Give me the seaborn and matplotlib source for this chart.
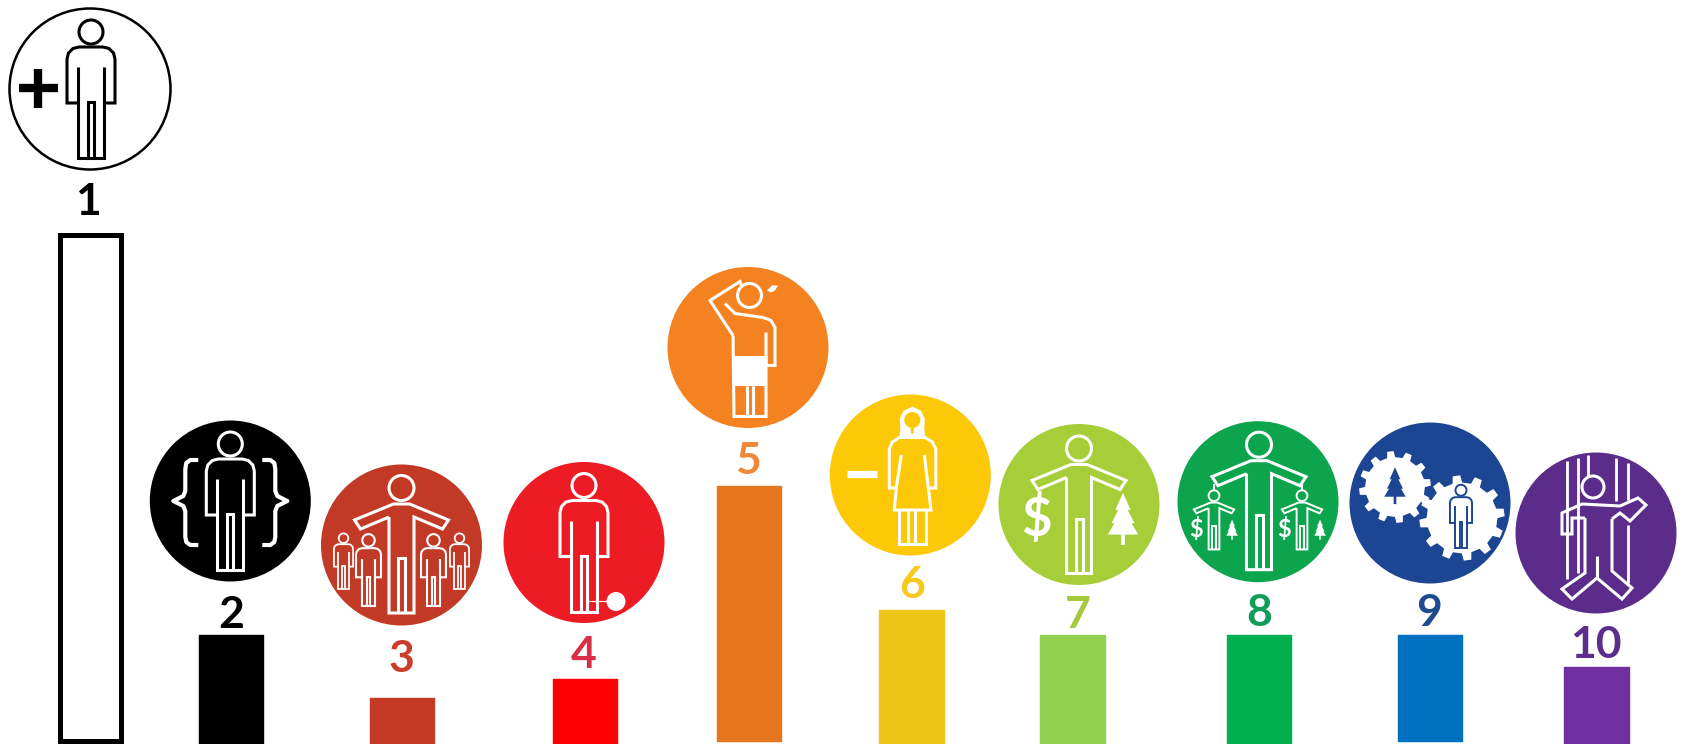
# -*- coding: utf-8 -*-
import numpy as np
import pandas as pd
import matplotlib
matplotlib.use("Agg")
import matplotlib.pyplot as plt
import seaborn as sns
from matplotlib.lines import Line2D
from matplotlib.patches import Circle, Polygon
from matplotlib.transforms import Affine2D

# data: one bar per numbered icon, heights
labels = ["1", "2", "3", "4", "5", "6", "7", "8", "9", "10"]
values = [509, 109, 46, 65, 258, 134, 109, 109, 109, 77]

# colours
bar_colors = ["#ffffff", "#000000", "#c43a25", "#ff0000", "#e6761e",
              "#eec616", "#92d050", "#00b050", "#0070c0", "#7030a0"]
icon_colors = ["#ffffff", "#000000", "#c23a26", "#ed1c24", "#f58220",
               "#fdc808", "#a6ce39", "#0ca44d", "#1c4594", "#5b2c8a"]
text_colors = ["#000000", "#000000", "#cc3c2c", "#d9304a", "#f0883a",
               "#f7c81e", "#a4c93c", "#0f9d58", "#1f4a8f", "#5b2d8c"]

# layout in pixels, the axes spans the figure 1:1
W, H = 1684, 744
BAR_X = [90, 231, 402, 585, 749, 911.5, 1072.5, 1259, 1430, 1596.5]
BAR_BOTTOM = [3, 0, 0, 0, 3, 0, 0, 0, 3, 0]
BAR_W = 64.6
ICON_X = [90, 230.3, 401.5, 584, 748, 910.3, 1079, 1258, 1430, 1596]
ICON_Y = [89, 501, 545, 542.5, 347.5, 475, 504.5, 501.7, 503, 533]
ICON_R = 80.5
NUM_X = [88, 231, 401, 584, 748, 912, 1078, 1259, 1429.5, 1596]
NUM_Y = [198.5, 611, 655, 652, 458, 581, 611, 609, 610, 641]

sns.set_theme(style="white")
plt.rcParams["font.family"] = ["Lato", "DejaVu Sans"]

fig = plt.figure(figsize=(W / 100, H / 100), dpi=100)
ax = fig.add_axes([0, 0, 1, 1])

df = pd.DataFrame({"pos": BAR_X, "value": values, "label": labels})
sns.barplot(data=df, x="pos", y="value", hue="label", hue_order=labels,
            palette=dict(zip(labels, bar_colors)), native_scale=True,
            width=BAR_W / np.diff(BAR_X).min(), dodge=False, saturation=1,
            legend=False, ax=ax)

for p, v, b, c in zip(ax.patches, values, BAR_BOTTOM, bar_colors):
    p.set_y(b)
    p.set_height(v - b)
    p.set_edgecolor(c)
    p.set_linewidth(1.0)
    p.set_joinstyle("round")

# first bar is only an outline
first = ax.patches[0]
first.set_x(90 - 30.5)
first.set_width(61)
first.set_edgecolor("black")
first.set_linewidth(3.6)
first.set_joinstyle("miter")

ax.set_xlim(0, W)
ax.set_ylim(0, H)
ax.axis("off")


def draw(pts, tr, color="white", lw=2.2, closed=False, join="miter"):
    if closed:
        pts = list(pts) + [pts[0]]
    xs, ys = zip(*pts)
    ax.add_line(Line2D(xs, ys, transform=tr, color=color, lw=lw,
                       solid_joinstyle=join, solid_capstyle="butt", zorder=4))


def fill(pts, tr, color="white"):
    ax.add_patch(Polygon(pts, closed=True, transform=tr, facecolor=color,
                         edgecolor="none", zorder=4))


def head(x, y, r, tr, color="white", lw=2.2):
    ax.add_patch(Circle((x, y), r, transform=tr, facecolor="none",
                        edgecolor=color, lw=lw, zorder=4))


def sub(tr, dx, dy, s):
    return Affine2D().scale(s).translate(dx, dy) + tr


def person(tr, color="white", lw=2.2):
    head(0, 57, 12, tr, color, lw)
    draw([(-13, -14), (-24, -14), (-24, 30), (-22.5, 36), (-18, 40.5), (-12, 42),
          (12, 42), (18, 40.5), (22.5, 36), (24, 30), (24, -14), (13, -14)], tr, color, lw)
    draw([(-13, 22), (-13, -69), (13, -69), (13, 22)], tr, color, lw)
    draw([(-3, -69), (-3, -13), (3, -13), (3, -69)], tr, color, lw)


def arms_person(tr, color="white", lw=2.2):
    head(0, 57, 12.5, tr, color, lw)
    draw([(-12.5, 28), (-12.5, -68), (12.5, -68), (12.5, 28), (41, 16), (47, 25),
          (8, 41), (-8, 41), (-47, 25), (-41, 16), (-12.5, 28)], tr, color, lw)
    draw([(-3.5, -68), (-3.5, -13), (3.5, -13), (3.5, -68)], tr, color, lw)


def tree(tr, color="white"):
    fill([(0, 25), (8, 7), (5, 7), (12, -7), (9, -7), (16, -19), (2, -19),
          (2, -30), (-2, -30), (-2, -19), (-16, -19), (-9, -7), (-12, -7),
          (-5, 7), (-8, 7)], tr, color)


def gear(tr, r, teeth=12):
    pts = []
    step = 2 * np.pi / teeth
    for i in range(teeth):
        a = step * i + step / 4
        pts += [(r * 0.83 * np.cos(a - step * 0.26), r * 0.83 * np.sin(a - step * 0.26)),
                (r * np.cos(a - step * 0.17), r * np.sin(a - step * 0.17)),
                (r * np.cos(a + step * 0.17), r * np.sin(a + step * 0.17)),
                (r * 0.83 * np.cos(a + step * 0.26), r * 0.83 * np.sin(a + step * 0.26))]
    fill(pts, tr)


def label_in_icon(tr, x, y, s, size, color="white"):
    ax.text(x, y, s, transform=tr, color=color, fontsize=size, fontweight="bold",
            ha="center", va="center", zorder=4)


def brace(tr, side):
    pts = [(-32, 41), (-40, 41), (-44, 38), (-45, 32), (-45, 10), (-47, 5), (-57, 0),
           (-47, -5), (-45, -10), (-45, -36), (-44, -41), (-40, -44), (-32, -44)]
    draw([(side * -x, y) for x, y in pts], tr, "white", 3.0, join="round")


# icon discs
trs = []
for i, (x, y, c) in enumerate(zip(ICON_X, ICON_Y, icon_colors)):
    edge = "black" if i == 0 else c
    lw = 1.8 if i == 0 else 0
    ax.add_patch(Circle((x, H - y), ICON_R, facecolor=c, edgecolor=edge, lw=lw, zorder=3))
    trs.append(Affine2D().translate(x, H - y) + ax.transData)

# 1: plus and person
person(sub(trs[0], 1, 0, 1), "black", 2.2)
draw([(-71, 1), (-32, 1)], trs[0], "black", 6.0)
draw([(-52, 20), (-52, -19)], trs[0], "black", 6.0)

# 2: braces
person(trs[1])
brace(trs[1], -1)
brace(trs[1], 1)

# 3: person with four little ones
arms_person(trs[2])
person(sub(trs[2], -33, -25, 0.52), lw=1.5)
person(sub(trs[2], 32, -25, 0.52), lw=1.5)
person(sub(trs[2], -58, -16, 0.4), lw=1.3)
person(sub(trs[2], 58, -16, 0.4), lw=1.3)

# 4: person with ball and chain
person(trs[3])
draw([(3, -58), (24, -58)], trs[3], "white", 0.8)
ax.add_patch(Circle((32, -59), 9.5, transform=trs[3], facecolor="white",
                    edgecolor="none", zorder=4))

# 5: person scratching head
t5 = trs[4]
head(1.5, 52, 12, t5)
draw([(-15, 12), (-38, 47), (-8, 66), (-6, 60)], t5)
draw([(-23, 44), (-13, 34), (15, 30), (23, 27), (27, 20), (27, -18), (18, -18), (18, 15)], t5)
draw([(-15, 12), (-14, -69), (18, -69), (18, -8)], t5)
fill([(-14, -8), (18, -8), (18, -38), (-14, -38)], t5)
draw([(-0.7, -38), (-0.7, -69)], t5)
draw([(4.7, -38), (4.7, -69)], t5)
fill([(19, 57), (24, 62), (30, 62), (27, 57), (23, 55)], t5)

# 6: minus and woman
t6 = trs[5]
draw([(-63, 1), (-33, 1)], t6, "white", 5.2)
fill([(-11, 36), (-10, 46), (-10.5, 56), (-7, 64), (2, 68.5), (11, 64), (14.5, 56), (14, 46),
      (15, 36)], t6)
ax.add_patch(Circle((2, 55), 8, transform=t6, facecolor=icon_colors[5], edgecolor="none", zorder=4))
fill([(0, 48), (4, 48), (3, 41), (1, 41)], t6, icon_colors[5])
draw([(-14, -13), (-21, -13), (-21, 26), (-18, 33), (-10, 38), (14, 38), (22, 33),
      (25.5, 26), (25.5, -13), (18, -13)], t6)
draw([(-9, 20), (-14, -13), (-16, -35), (20.7, -35), (18, -13), (14, 20)], t6)
draw([(-11.3, -35), (-11.3, -69), (15.3, -69), (15.3, -35)], t6)
draw([(-2, -35), (-2, -69)], t6)
draw([(4.7, -35), (4.7, -69)], t6)

# 7: money and tree
arms_person(sub(trs[6], 0, -1, 1))
label_in_icon(trs[6], -42, -15, "$", 38)
tree(sub(trs[6], 44, -12, 0.95))

# 8: with two small copies
arms_person(sub(trs[7], 1, 0, 1))
for dx in (-44, 44):
    small = sub(trs[7], dx, -18.5, 0.43)
    arms_person(small, lw=1.4)
    label_in_icon(small, -41, -20, "$", 17)
    tree(sub(small, 42, -20, 0.85))
    draw([(dx, 18), (dx, 12)], trs[7], "white", 1.4)

# 9: two gears
gear(sub(trs[8], -35, 16, 1), 36)
gear(sub(trs[8], 32, -15, 1), 42.7)
tree(sub(trs[8], -35, 19, 0.67), "#1c4594")
person(sub(trs[8], 31, -13.5, 0.46), "#1c4594", 1.4)

# 10: person behind bars
t10 = trs[9]
for bx, top, low in ((-29, 72, -46), (-18, 75, -40), (-8, 78, 57),
                     (20, 75, 32), (32, 70, 33), (32, 8, -50)):
    draw([(bx, top), (bx, low)], t10, "white", 2.0)
head(-3, 46, 11, t10)
draw([(-11, 15), (-24, 15), (-24, -1), (-34, -1), (-34, 20), (-14, 29), (24, 27),
      (42, 35), (50, 28), (34, 12), (24, 20), (16, 14)], t10)
draw([(-11, 15), (-11, -40), (-34, -56), (-24, -66), (1, -45), (26, -66), (36, -55),
      (16, -38), (16, 14)], t10)
draw([(1, -45), (1, -23)], t10)

# numbers
for x, y, s, c in zip(NUM_X, NUM_Y, labels, text_colors):
    ax.text(x, H - y, s, color=c, fontsize=32, fontweight="bold",
            ha="center", va="center_baseline", zorder=5)

fig.savefig("out.png", dpi=100, facecolor="white")
